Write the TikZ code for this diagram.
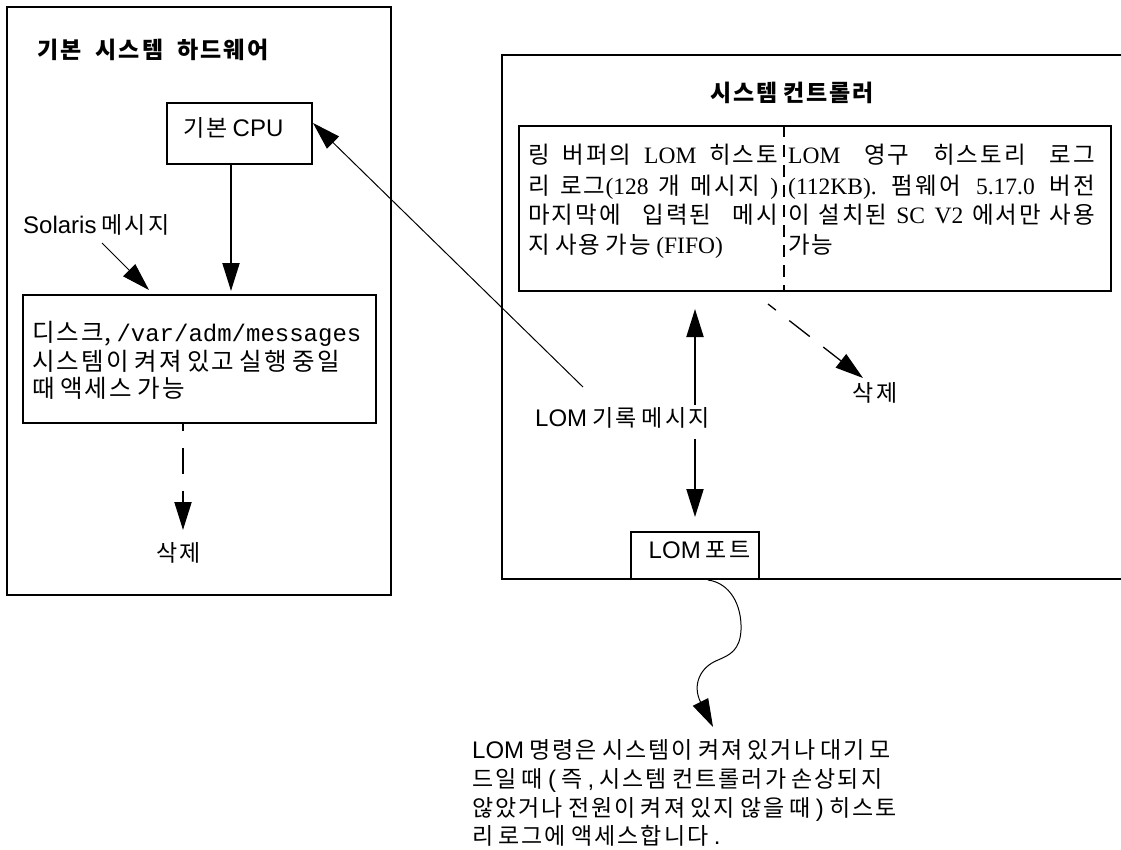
\documentclass[tikz,border=0pt]{standalone}
\usepackage{fontspec}
\usetikzlibrary{arrows.meta,calc}
\newfontfamily\kr{Noto Sans CJK KR}
\newfontfamily\hv{Liberation Sans}
\newfontfamily\tm{Liberation Serif}
\newfontfamily\mono{Liberation Mono}
% small extra spacing between consecutive Hangul syllables
\XeTeXinterchartokenstate=1
\newXeTeXintercharclass\hgcl
\newcount\hgc
\hgc="AC00
\loop
  \XeTeXcharclass\hgc=\hgcl
  \ifnum\hgc<"D7A3 \advance\hgc by 1
\repeat
\XeTeXinterchartoks\hgcl\hgcl={\kern0.09em\relax}
\newcommand\HV[1]{{\hv\fontsize{24}{26}\selectfont #1}}
\newcommand\TM[1]{{\tm\fontsize{23.5}{26}\selectfont #1}}
\newcommand\MONO[1]{{\mono\fontsize{24}{26}\selectfont #1}}
\tikzset{
  box/.style={draw, line width=2pt, inner sep=0pt},
  txt/.style={inner sep=0pt, anchor=base west, font=\kr\fontsize{23}{26}\selectfont},
  dtxt/.style={txt, font=\kr\fontsize{24.5}{26}\selectfont},
  stxt/.style={txt, font=\kr\fontsize{23.5}{26}\selectfont},
  ttl/.style={inner sep=0pt, anchor=base west, font=\kr\bfseries\fontsize{23}{26}\selectfont},
  tip/.style={-{Triangle[length=28pt,width=17pt]}},
  bigarr/.style={line width=2pt, tip},
  thinarr/.style={line width=1pt, tip},
  dasharr/.style={line width=2pt, dash pattern=on 26pt off 17pt, dash phase=19pt, tip},
  dasharrb/.style={line width=1.3pt, dash pattern=on 26pt off 17pt, dash phase=16pt, tip},
}
\begin{document}
\begin{tikzpicture}[x=1pt,y=-1pt]
\useasboundingbox (0,0) rectangle (1121,849);
% ---------- left: basic system hardware ----------
\node[box, minimum width=384pt, minimum height=588pt] (hw) at (199,301) {};
\node[ttl] (hwt) at (37,58) {\makebox[231pt][s]{기본 시스템 하드웨어}};
\node[box, minimum width=145pt, minimum height=61pt] (cpu) at (239.5,133.5) {};
\node[txt] (cput) at (183,136) {기본 \HV{CPU}};
\node[txt] (sol) at (23,233) {\HV{Solaris} 메시지};
\node[box, minimum width=353pt, minimum height=128pt] (disk) at (199.5,359) {};
\node[dtxt] (d1) at (32,341) {디스크, \MONO{/var/adm/messages}};
\node[dtxt] (d2) at (32,370) {시스템이 켜져 있고 실행 중일};
\node[dtxt] (d3) at (32,397) {때 액세스 가능};
\node[txt, anchor=base] (del1) at (178.5,561) {삭제};
\coordinate (cx) at (231,0);
\draw[bigarr, shorten >=3pt] (cx |- cpu.south) -- (cx |- disk.north);
\draw[thinarr] ($(sol.base west)+(79,10)$) -- ($(disk.north west)+(127,-4)$);
\coordinate (dx) at (183,0);
\draw[dasharr] (dx |- disk.south) -- ($(dx |- del1.base)+(0,-31)$);
% ---------- right: system controller ----------
\draw[line width=2pt] (1126,55) -- (502,55) -- (502,579) -- (1126,579);
\node[ttl] (sct) at (710,101) {시스템 컨트롤러};
\node[box, minimum width=592pt, minimum height=165pt] (mem) at (815,208.5) {};
\coordinate (vx) at (784,0);
\draw[line width=1.5pt, dash pattern=on 12pt off 8pt] (vx |- mem.north) -- (vx |- mem.south);
\node[stxt] (l1) at (528,163) {\makebox[250pt][s]{링 버퍼의 \TM{LOM} 히스토}};
\node[stxt] (l2) at (528,194) {\makebox[250pt][s]{리 로그\TM{(128} 개 메시지 \TM{)}}};
\node[stxt] (l3) at (528,223) {\makebox[250pt][s]{마지막에 입력된 메시}};
\node[stxt] (l4) at (528,253) {지 사용 가능 \TM{(FIFO)}};
\node[stxt] (r1) at (788,163) {\makebox[307pt][s]{\TM{LOM} 영구 히스토리 로그}};
\node[stxt] (r2) at (788,194) {\makebox[307pt][s]{\TM{(112KB).} 펌웨어 \TM{5.17.0} 버전}};
\node[stxt] (r3) at (788,223) {\makebox[307pt][s]{이 설치된 \TM{SC V2} 에서만 사용}};
\node[stxt] (r4) at (788,253) {가능};
\node[txt] (lomt) at (535,426) {\HV{LOM} 기록 메시지};
\draw[thinarr] ($(lomt.base west)+(48,-39)$) -- ($(cpu.north east)+(0,21)$);
\node[box, minimum width=128pt, minimum height=47pt] (port) at (695,555.5) {};
\node[txt, anchor=base] (portt) at (699.5,558) {\HV{LOM} 포트};
\coordinate (ax) at (695,0);
\draw[bigarr, shorten >=17pt] ($(ax |- lomt.base)+(0,-21)$) -- (ax |- mem.south);
\draw[bigarr, shorten >=14pt] ($(ax |- lomt.base)+(0,13)$) -- (ax |- port.north);
\node[txt, anchor=base] (del2) at (875,401) {삭제};
\draw[dasharrb] ($(mem.south)+(-47,12)$) -- ($(del2.base)+(-12,-23)$);
% ---------- bottom note ----------
\node[txt] (b1) at (472,758) {\HV{LOM} 명령은 시스템이 켜져 있거나 대기 모};
\node[txt] (b2) at (472,787) {드일 때 \HV{(} 즉 \HV{,} 시스템 컨트롤러가 손상되지};
\node[txt] (b3) at (472,816) {않았거나 전원이 켜져 있지 않을 때 \HV{)} 히스토};
\node[txt] (b4) at (472,844) {리 로그에 액세스합니다 \HV{.}};
\draw[thinarr] ($(port.south)+(13,0)$) .. controls (730,583) and (742,605) .. (741,630)
  .. controls (740,650) and (730,655) .. (718,660)
  .. controls (700,667) and (692,685) .. ($(b1.base west)+(241,-31)$);
\end{tikzpicture}
\end{document}
